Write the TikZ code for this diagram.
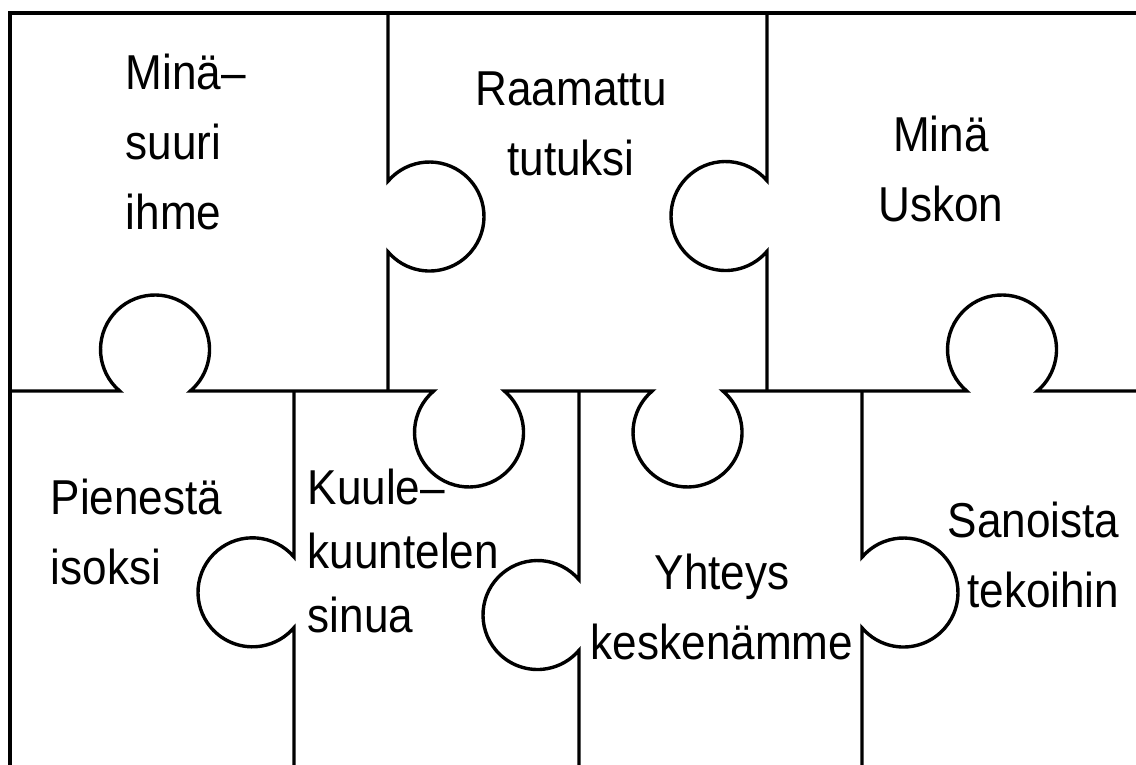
\documentclass[tikz,border=0pt]{standalone}
\usepackage{fontspec}
\newfontfamily\pzfont{Liberation Sans}[FakeStretch=0.9]
\begin{document}
\begin{tikzpicture}[x=1pt,y=1pt,line width=3.4pt,
  lbl/.style={font=\pzfont\fontsize{49}{70}\selectfont, inner sep=0pt},
  knob/.style={radius=54.5}]
\useasboundingbox (0,0) rectangle (1136,765);
\fill[white] (0,0) rectangle (1136,765);
% outer border (top and left)
\draw (1136,752) -- (10,752) -- (10,0);
% horizontal seam with knobs
\draw (10,374) -- (119.7,374) arc[start angle=229.6,end angle=-49.6,knob]
  -- (433.7,374) arc[start angle=130.4,end angle=409.6,knob]
  -- (652.2,374) arc[start angle=130.4,end angle=409.6,knob]
  -- (966.7,374) arc[start angle=229.6,end angle=-49.6,knob]
  -- (1136,374);
% top row seams
\draw (388,752) -- (388,583.8) arc[start angle=139.6,end angle=-139.6,knob] -- (388,374);
\draw (767,752) -- (767,584.3) arc[start angle=40.4,end angle=319.6,knob] -- (767,374);
% bottom row seams
\draw (294,374) -- (294,208) arc[start angle=40.4,end angle=319.6,knob] -- (294,0);
\draw (579,374) -- (579,185.3) arc[start angle=40.4,end angle=319.6,knob] -- (579,0);
\draw (862,374) -- (862,207.8) arc[start angle=139.6,end angle=-139.6,knob] -- (862,0);
% labels (anchor at baseline of last line)
\node[lbl,anchor=base west,align=left] (t1) at (124,535) {Minä–\\suuri\\ihme};
\node[lbl,anchor=base,align=center] (t2) at (571,589) {Raamattu\\tutuksi};
\node[lbl,anchor=base,align=center] (t3) at (941,543) {Minä\\Uskon};
\node[lbl,anchor=base west,align=left] (t4) at (49,180) {Pienestä\\isoksi};
\node[lbl,anchor=base west,align=left,font=\pzfont\fontsize{49}{64}\selectfont] (t5) at (306,132) {Kuule–\\kuuntelen\\sinua};
\node[lbl,anchor=base,align=center] (t6) at (722,105) {Yhteys\\keskenämme};
\node[lbl,anchor=base east,align=right] (t7) at (1121,157) {Sanoista\\tekoihin};
\end{tikzpicture}
\end{document}
